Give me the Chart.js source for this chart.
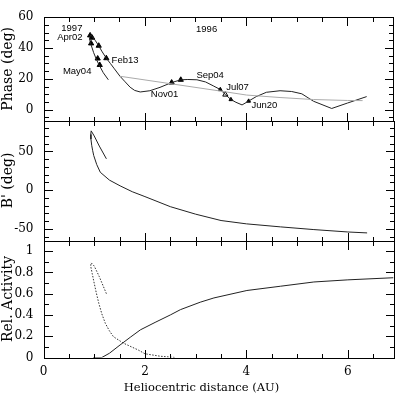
<!DOCTYPE html>
<html>
<head>
<meta charset="utf-8">
<script src="https://cdn.jsdelivr.net/npm/chart.js@4"></script>
<style>
  body { margin: 0; background: #fff; }
  #wrap { position: relative; width: 398px; height: 395px; }
  canvas { position: absolute; left: 0; top: 0; }
</style>
</head>
<body>
<div id="wrap">
  <canvas id="phase" width="398" height="395"></canvas>
  <canvas id="bprime" width="398" height="395"></canvas>
  <canvas id="activity" width="398" height="395"></canvas>
</div>
<script>
// heliocentric distance (AU) / phase angle (deg) along the orbit
var pathR = [6.38, 6.0, 5.69, 5.33, 5.1, 4.9, 4.67, 4.4, 4.2, 4.05, 3.92, 3.8, 3.70, 3.59, 3.49, 3.35, 3.2, 3.03, 2.85, 2.71, 2.53, 2.3, 2.1, 1.91, 1.8, 1.71, 1.6, 1.51, 1.4, 1.32, 1.24, 1.15, 1.09, 1.02, 0.96, 0.93, 0.91, 0.92, 0.94, 0.99, 1.04, 1.09, 1.18, 1.28];
var pathPhase = [8.5, 4.3, 0.8, 5.5, 10.3, 11.8, 12.3, 11.3, 8.5, 5.6, 3.1, 4.8, 6.6, 9.8, 13.1, 15.5, 18, 19.4, 19.6, 19.4, 17.6, 14.5, 12.3, 11.5, 12.5, 14.6, 18.5, 21.7, 26.5, 30, 33.4, 38, 41.5, 45, 47.5, 48.5, 47, 44, 42, 37, 33, 29.5, 24, 19.4];

var trendR = [1.51, 2.5, 3.49, 4.01, 4.67, 5.33, 6.0, 6.3];
var trendPhase = [21.7, 16.9, 12.1, 9.5, 7.9, 6.6, 6.0, 5.9];

var obsR = [0.92, 0.96, 0.94, 1.09, 1.07, 1.11, 1.24, 2.53, 2.71];
var obsPhase = [48.2, 46.7, 43, 41.5, 33.2, 29, 33.4, 17.6, 19.4];
var obsSmallR = [3.49, 3.70, 4.05];
var obsSmallPhase = [13.1, 6.6, 5.6];
var openR = [3.59];
var openPhase = [9.8];

var dateLabels = ["1997", "Apr02", "Feb13", "May04", "Nov01", "1996", "Sep04", "Jul07", "Jun20"];
var labelAt = [[0.56, 52.7], [0.52, 46.8], [1.61, 31.9], [0.665, 24.6], [2.39, 10.2], [3.22, 51.9], [3.29, 22.1], [3.83, 14.2], [4.36, 3.1]];

// B' (deg)
var bR = [1.24, 1.1, 1.0, 0.94, 0.932, 0.935, 0.95, 0.97, 0.99, 1.05, 1.12, 1.3, 1.51, 1.75, 2.0, 2.5, 3.0, 3.5, 4.0, 4.67, 5.33, 6.0, 6.38];
var bDeg = [40.5, 57, 70, 76.6, 72, 66, 58, 51, 44.8, 33, 23.1, 13, 5.6, -2, -8.3, -21.3, -31, -39.2, -43.5, -47.4, -50.9, -54, -55.2];

// relative activity
var actR = [0.98, 1.15, 1.3, 1.51, 1.71, 1.91, 2.2, 2.5, 2.7, 3.09, 3.36, 4.01, 4.67, 5.33, 6.0, 6.9];
var actLevel = [0, 0, 0.04, 0.118, 0.19, 0.26, 0.33, 0.40, 0.45, 0.52, 0.56, 0.63, 0.67, 0.71, 0.73, 0.75];
var dustR = [1.24, 1.1, 1.0, 0.94, 0.93, 0.96, 0.99, 1.04, 1.09, 1.15, 1.22, 1.3, 1.38, 1.58, 1.87, 2.0, 2.3, 2.6];
var dustLevel = [0.60, 0.76, 0.86, 0.89, 0.86, 0.79, 0.72, 0.61, 0.51, 0.41, 0.32, 0.25, 0.195, 0.134, 0.07, 0.035, 0.012, 0];

function pts(xs, ys) {
  return xs.map(function(x, i) { return {x: x, y: ys[i]}; });
}

Chart.defaults.font.family = "'DejaVu Serif', serif";
Chart.defaults.color = "#000";

// frame, inward ticks and annotations
var frame = {
  id: "frame",
  afterDraw: function(chart, args, opts) {
    var ctx = chart.ctx, a = chart.chartArea;
    var xs = chart.scales.x, ys = chart.scales.y;
    var L = Math.round(a.left), R = Math.round(a.right), T = Math.round(a.top), B = Math.round(a.bottom);
    ctx.save();
    ctx.setLineDash([]);
    ctx.globalAlpha = 1;
    ctx.fillStyle = "#000";
    ctx.fillRect(L, T, R - L, 1);
    ctx.fillRect(L, B, R - L, 1);
    ctx.fillRect(L, T, 1, B - T + 1);
    ctx.fillRect(R, T, 1, B - T + 1);
    for (var i = 0; i * 0.5 <= xs.max + 1e-9; i++) {
      var px = Math.round(xs.getPixelForValue(i * 0.5));
      var len = (i % 4 === 0) ? 9 : 5;
      ctx.fillRect(px, T, 1, len);
      ctx.fillRect(px, B - len + 1, 1, len);
    }
    var k0 = Math.ceil(ys.min / opts.minor - 1e-9);
    for (var k = k0; k * opts.minor <= ys.max + 1e-9; k++) {
      var v = k * opts.minor;
      var r = v / opts.major;
      var big = Math.abs(r - Math.round(r)) < 1e-6;
      var py = Math.round(ys.getPixelForValue(v));
      var l = big ? 9 : 5;
      ctx.fillRect(L, py, l, 1);
      ctx.fillRect(R - l + 1, py, l, 1);
    }
    ctx.textAlign = "center";
    ctx.textBaseline = "middle";
    if (opts.labels) {
      ctx.font = "9.5px 'Liberation Sans', Arial, sans-serif";
      opts.labels.forEach(function(t, i) {
        ctx.fillText(t, xs.getPixelForValue(labelAt[i][0]), ys.getPixelForValue(labelAt[i][1]));
      });
    }
    if (opts.xTitle) {
      ctx.font = "11.5px 'DejaVu Serif', serif";
      ctx.fillText(opts.xTitle, 201.5, 388.5);
    }
    ctx.restore();
  }
};

function panel(id, datasets, yMin, yMax, yStep, yTitle, area, showX, frameOpts) {
  var chart = new Chart(id, {
    type: "scatter",
    data: {datasets: datasets},
    plugins: [frame],
    options: {
      responsive: false,
      animation: false,
      layout: {padding: {left: 0, right: 398 - area.right, top: area.top, bottom: 395 - area.bottom}},
      plugins: {legend: {display: false}, tooltip: {enabled: false}, frame: frameOpts},
      scales: {
        x: {
          type: "linear", min: 0, max: 6.9, display: showX,
          grid: {display: false, drawTicks: false}, border: {display: false},
          ticks: {stepSize: 2, includeBounds: false, padding: 7, font: {size: 12}}
        },
        y: {
          type: "linear", min: yMin, max: yMax,
          grid: {display: false, drawTicks: false}, border: {display: false},
          ticks: {stepSize: yStep, includeBounds: false, padding: 10, font: {size: 12},
            callback: function(v) { return String(+v.toFixed(2)); }},
          title: {display: true, text: yTitle, font: {size: 14}, padding: 0},
          afterFit: function(s) { s.width = area.left; }
        }
      }
    }
  });
  // nudge the padding until the plot box lands where the panel should be
  for (var n = 0; n < 3; n++) {
    var a = chart.chartArea, p = chart.options.layout.padding;
    p.top += area.top - a.top;
    p.bottom += a.bottom - area.bottom;
    p.right += a.right - area.right;
    chart.update("none");
  }
  return chart;
}

function line(data, color, width, dash) {
  return {data: data, showLine: true, borderColor: color, borderWidth: width, borderDash: dash || [],
    pointRadius: 0, tension: 0, fill: false};
}
function marks(data, radius, fill) {
  return {data: data, showLine: false, pointStyle: "triangle", pointRadius: radius,
    backgroundColor: fill, borderColor: "#000", borderWidth: 1};
}

panel("phase", [
  line(pts(trendR, trendPhase), "#aaa", 1),
  line(pts(pathR, pathPhase), "#222", 1),
  marks(pts(obsR, obsPhase), 3, "#000"),
  marks(pts(obsSmallR, obsSmallPhase), 2.2, "#000"),
  marks(pts(openR, openPhase), 3, "#fff")
], -7, 60, 20, "Phase (deg)", {left: 43.5, right: 393.5, top: 4.5, bottom: 120.5}, false,
  {minor: 5, major: 20, labels: dateLabels});

panel("bprime", [
  line(pts(bR, bDeg), "#222", 1)
], -65, 90, 50, "B' (deg)", {left: 43.5, right: 393.5, top: 120.5, bottom: 240.5}, false,
  {minor: 10, major: 50});

panel("activity", [
  line(pts(dustR, dustLevel), "#333", 1, [1.5, 1.5]),
  line(pts(actR, actLevel), "#222", 1)
], 0, 1.1, 0.2, "Rel. Activity", {left: 43.5, right: 393.5, top: 240.5, bottom: 357.5}, true,
  {minor: 0.1, major: 0.2, xTitle: "Heliocentric distance (AU)"});
</script>
</body>
</html>
